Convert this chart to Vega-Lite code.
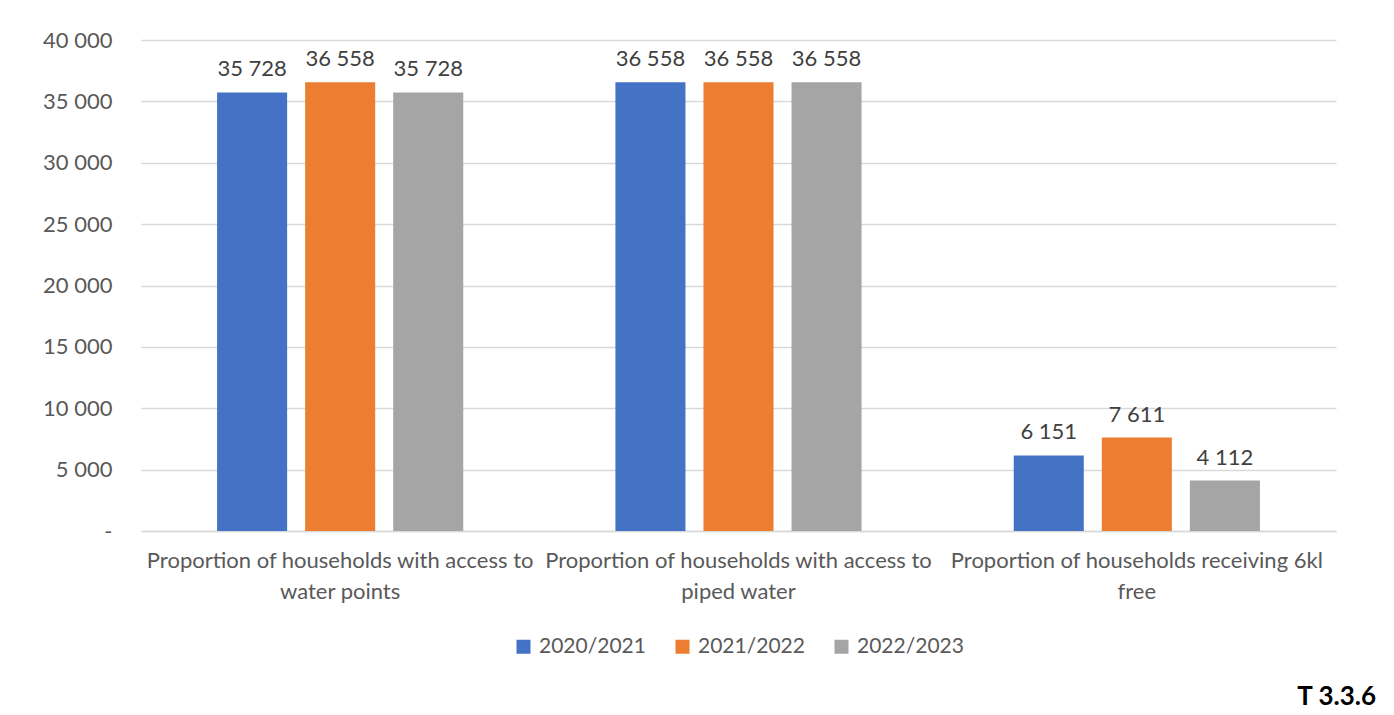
{
  "$schema": "https://vega.github.io/schema/vega-lite/v6.json",
  "autosize": "none",
  "width": 1195,
  "height": 491,
  "padding": {"left": 141, "top": 40, "right": 58, "bottom": 184},
  "background": "white",
  "title": {
    "text": "T 3.3.6",
    "orient": "bottom",
    "anchor": "end",
    "font": "Lato",
    "fontSize": 26,
    "fontWeight": "bold",
    "color": "#000000",
    "offset": 27,
    "dx": 40
  },
  "config": {
    "locale": {"number": {"decimal": ".", "thousands": " ", "grouping": [3], "currency": ["", ""]}},
    "view": {"stroke": null},
    "font": "Lato",
    "axis": {"labelFont": "Lato", "labelFontSize": 22, "labelColor": "#595959"},
    "legend": {"labelFont": "Lato", "labelFontSize": 21, "labelColor": "#595959", "layout": {"bottom": {"anchor": "middle"}}}
  },
  "data": {
    "values": [
      {"category": "Proportion of households with access to|water points", "year": "2020/2021", "value": 35728},
      {"category": "Proportion of households with access to|water points", "year": "2021/2022", "value": 36558},
      {"category": "Proportion of households with access to|water points", "year": "2022/2023", "value": 35728},
      {"category": "Proportion of households with access to|piped water", "year": "2020/2021", "value": 36558},
      {"category": "Proportion of households with access to|piped water", "year": "2021/2022", "value": 36558},
      {"category": "Proportion of households with access to|piped water", "year": "2022/2023", "value": 36558},
      {"category": "Proportion of households receiving 6kl|free", "year": "2020/2021", "value": 6151},
      {"category": "Proportion of households receiving 6kl|free", "year": "2021/2022", "value": 7611},
      {"category": "Proportion of households receiving 6kl|free", "year": "2022/2023", "value": 4112}
    ]
  },
  "encoding": {
    "x": {
      "field": "category",
      "type": "nominal",
      "sort": null,
      "scale": {"paddingInner": 0.382, "paddingOuter": 0.191},
      "axis": {
        "title": null,
        "labelAngle": 0,
        "labelExpr": "split(datum.label, '|')",
        "labelLineHeight": 31,
        "labelPadding": 19,
        "labelBaseline": "top",
        "ticks": false,
        "domainColor": "#D9D9D9",
        "domainWidth": 1.5,
        "labelLimit": 500
      }
    },
    "xOffset": {
      "field": "year",
      "type": "nominal",
      "scale": {"paddingInner": 0.2045, "paddingOuter": 0}
    },
    "y": {
      "field": "value",
      "type": "quantitative",
      "scale": {"domain": [0, 40000]},
      "axis": {
        "title": null,
        "values": [0, 5000, 10000, 15000, 20000, 25000, 30000, 35000, 40000],
        "labelExpr": "datum.value === 0 ? '-\u00a0\u00a0\u00a0\u00a0\u00a0' : format(datum.value, ',')",
        "domain": false,
        "ticks": false,
        "labelPadding": 29,
        "gridColor": "#D9D9D9",
        "gridWidth": 1.5
      }
    }
  },
  "layer": [
    {
      "mark": {"type": "bar"},
      "encoding": {
        "color": {
          "field": "year",
          "type": "nominal",
          "scale": {"domain": ["2020/2021", "2021/2022", "2022/2023"], "range": ["#4472C4", "#ED7D31", "#A5A5A5"]},
          "legend": {
            "title": null,
            "orient": "bottom",
            "direction": "horizontal",
            "symbolType": "square",
            "symbolSize": 196,
            "symbolStrokeWidth": 0,
            "symbolOpacity": 1,
            "labelOffset": 5,
            "columnPadding": 26,
            "offset": 34
          }
        }
      }
    },
    {
      "mark": {"type": "text", "baseline": "bottom", "dy": -11, "fontSize": 22, "color": "#404040", "font": "Lato"},
      "encoding": {
        "text": {"field": "value", "type": "quantitative", "format": ","}
      }
    }
  ]
}
